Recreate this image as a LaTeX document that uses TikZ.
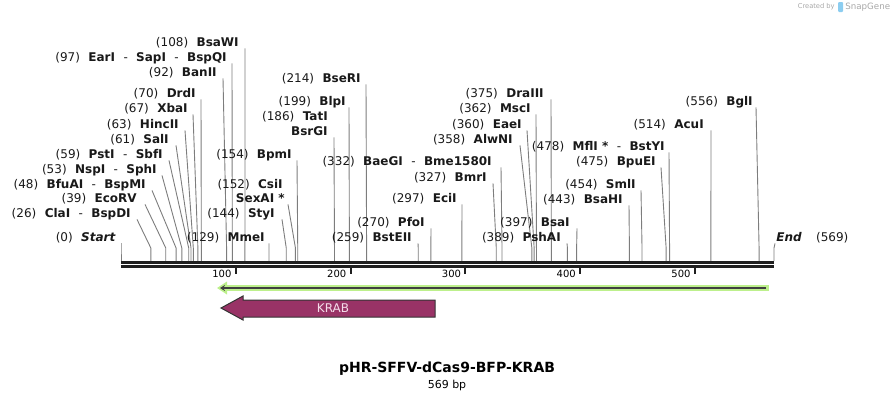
\documentclass[tikz,border=0pt]{standalone}
\usepackage{fontspec}
\setmainfont{DejaVu Sans}
\usetikzlibrary{arrows.meta, positioning}

\definecolor{cutgrey}{HTML}{7D7D7D}
\definecolor{krabfill}{HTML}{993366}
\definecolor{krabtext}{HTML}{F4DDEA}
\definecolor{featgreen}{HTML}{BDF08C}
\definecolor{creditgrey}{HTML}{A8A8A8}
\definecolor{logoblue}{HTML}{8CCDF0}
\newcommand{\gp}{\hspace{.7em}}

\begin{document}
\begin{tikzpicture}[x=1pt, y=-1pt, semithick,
    lbl/.style = {anchor=base east, inner sep=0, text=black!90, font=\fontsize{12}{14}\selectfont},
    cut/.style = {draw=cutgrey, line width=0.9pt}]
  \useasboundingbox (0,0) rectangle (896,400);

  \foreach \p/\ly/\ex/\tx/\txt in {
      0/237/116/121/{(0)\gp\textbf{\textit{Start}}},
      26/213/131/137/{(26)\gp\textbf{ClaI}\gp-\gp\textbf{BspDI}},
      39/198/137/145/{(39)\gp\textbf{EcoRV}},
      48/184/146/152/{(48)\gp\textbf{BfuAI}\gp-\gp\textbf{BspMI}},
      53/169/157/162/{(53)\gp\textbf{NspI}\gp-\gp\textbf{SphI}},
      59/154/163/169/{(59)\gp\textbf{PstI}\gp-\gp\textbf{SbfI}},
      61/139/169/176/{(61)\gp\textbf{SalI}},
      63/124/179/185/{(63)\gp\textbf{HincII}},
      67/108/188/193/{(67)\gp\textbf{XbaI}},
      70/93/196/201/{(70)\gp\textbf{DrdI}},
      92/72/217/223/{(92)\gp\textbf{BanII}},
      97/57/227/232/{(97)\gp\textbf{EarI}\gp-\gp\textbf{SapI}\gp-\gp\textbf{BspQI}},
      108/42/239/245/{(108)\gp\textbf{BsaWI}},
      129/237/265/269/{(129)\gp\textbf{MmeI}},
      144/213/275/282/{(144)\gp\textbf{StyI}},
      152/198/285/288/{\textbf{SexAI *}},
      154/154/292/297/{(154)\gp\textbf{BpmI}},
      186/131/328/334/{\textbf{BsrGI}},
      199/101/346/349/{(199)\gp\textbf{BlpI}},
      214/78/361/366/{(214)\gp\textbf{BseRI}},
      259/237/412/418/{(259)\gp\textbf{BstEII}},
      270/222/425/431/{(270)\gp\textbf{PfoI}},
      297/198/457/462/{(297)\gp\textbf{EciI}},
      327/177/487/493/{(327)\gp\textbf{BmrI}},
      332/161/492/501/{(332)\gp\textbf{BaeGI}\gp-\gp\textbf{Bme1580I}},
      358/139/513/520/{(358)\gp\textbf{AlwNI}},
      360/124/522/527/{(360)\gp\textbf{EaeI}},
      362/108/531/536/{(362)\gp\textbf{MscI}},
      375/93/544/551/{(375)\gp\textbf{DraIII}},
      389/237/561/567/{(389)\gp\textbf{PshAI}},
      397/222/570/577/{(397)\gp\textbf{BsaI}},
      443/199/623/629/{(443)\gp\textbf{BsaHI}},
      454/184/636/641/{(454)\gp\textbf{SmlI}},
      475/161/656/661/{(475)\gp\textbf{BpuEI}},
      478/146/665/669/{(478)\gp\textbf{MflI *}\gp-\gp\textbf{BstYI}},
      514/124/704/711/{(514)\gp\textbf{AcuI}},
      556/101/753/756/{(556)\gp\textbf{BglI}}} {
    \pgfmathsetmacro\sx{121+\p*1.14763}
    \pgfmathsetmacro\dx{\tx-\ex}
    \node[lbl] (l\p) at (\ex,\ly+4.4) {\txt};
    \coordinate (s\p) at (\sx,261);
    \draw[cut] ([shift={(\dx pt,-2pt)}]l\p.base east) -- ([yshift=13pt]s\p) -- (s\p);
  }
  \node[lbl] (csi) at (283,188.4) {(152)\gp\textbf{CsiI}};
  \node[lbl] (tat) at (328,120.4) {(186)\gp\textbf{TatI}};
  \node[lbl, anchor=base west] (l569) at (776,241.4) {\textbf{\textit{End}}\hspace{1.2em}(569)};
  \coordinate (s569) at (774,261);
  \draw[cut] ([shift={(-1pt,-2pt)}]l569.base west) -- ([yshift=13pt]s569) -- (s569);

  \draw[line width=2.6pt, black!88] (121,262.3) -- (774,262.3);
  \draw[line width=2.6pt, black!88] (121,266.4) -- (774,266.4);
  \foreach \t in {100,200,...,500} {
    \pgfmathsetmacro\tk{121+\t*1.14763}
    \draw[line width=2pt, black!88] (\tk,266) -- (\tk,274);
    \node[anchor=east, inner sep=0, font=\fontsize{10}{12}\selectfont] (tick\t) at (\tk-4,274) {\t};
  }

  \draw[featgreen, line width=6pt] (769,288) -- (224,288);
  \fill[featgreen] (217,288) -- (227,281.5) -- (227,294.5) -- cycle;
  \draw[black!75, line width=2.2pt, -{Stealth[length=5pt,width=6pt]}] (766,288) -- (220,288);

  \filldraw[fill=krabfill, draw=black!80, line width=1pt]
    (435,300) -- (243,300) -- (243,296) -- (221,308) -- (243,320) -- (243,317) -- (435,317) -- cycle;
  \node[text=krabtext, font=\fontsize{12}{14}\selectfont] (krab) at (333,308) {KRAB};

  \node[font=\fontsize{14}{16}\selectfont\bfseries] (title) at (447,369) {pHR-SFFV-dCas9-BFP-KRAB};
  \node[font=\fontsize{11}{13}\selectfont, below=0pt of title, inner sep=0] (size) {569 bp};

  \node[anchor=east, inner sep=0, text=creditgrey, font=\fontsize{6.7}{8}\selectfont] (credit) at (835,7) {Created by};
  \fill[logoblue, rounded corners=1pt] (838,2) rectangle (843,12);
  \node[anchor=west, inner sep=0, text=creditgrey, font=\fontsize{8.7}{10}\selectfont] (snapgene) at (845,7) {SnapGene};
\end{tikzpicture}
\end{document}
